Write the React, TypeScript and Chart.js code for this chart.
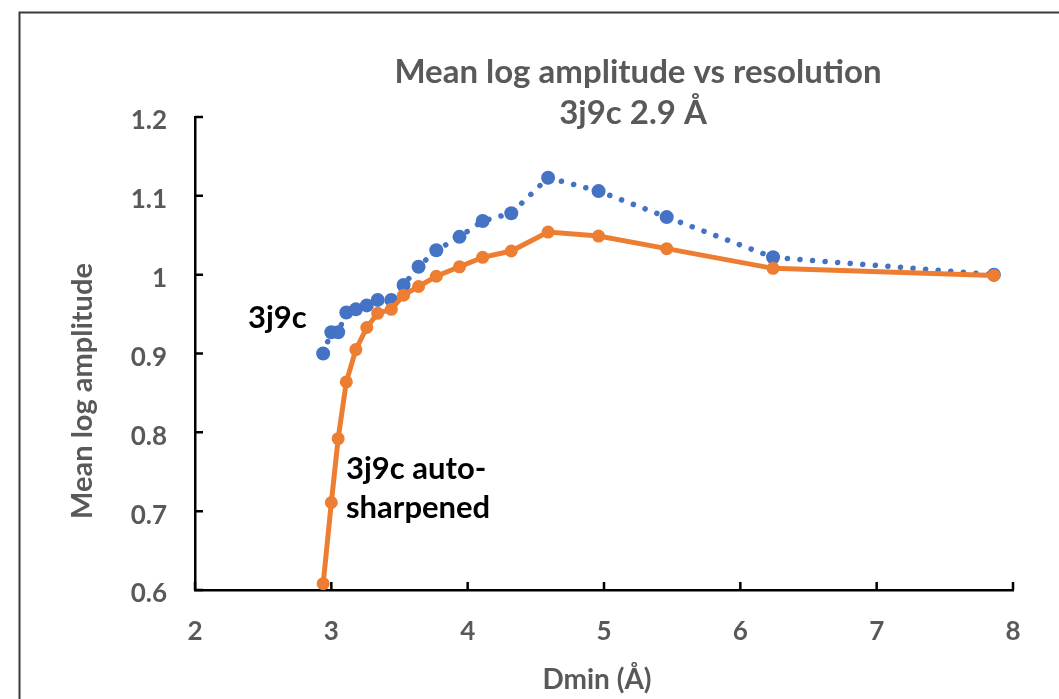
import { useEffect, useRef } from "react";
import { Chart, registerables } from "chart.js";

Chart.register(...registerables);

// Data
const dmin = [2.94, 3.0, 3.05, 3.11, 3.18, 3.26, 3.34, 3.44, 3.53, 3.64, 3.77, 3.94, 4.11, 4.32, 4.59, 4.96, 5.46, 6.24, 7.86];
const original3j9c = [0.9, 0.927, 0.927, 0.952, 0.956, 0.961, 0.968, 0.968, 0.987, 1.01, 1.031, 1.048, 1.068, 1.078, 1.123, 1.106, 1.073, 1.022, 1.0];
const sharpened3j9c = [0.608, 0.711, 0.792, 0.864, 0.905, 0.933, 0.951, 0.956, 0.974, 0.985, 0.998, 1.01, 1.022, 1.03, 1.054, 1.049, 1.033, 1.008, 0.999];
const xTicks = [2, 3, 4, 5, 6, 7, 8];
const yTicks = [0.6, 0.7, 0.8, 0.9, 1.0, 1.1, 1.2];

const titleLines = ["Mean log amplitude vs resolution", "3j9c 2.9 Å"];
const xTitle = "Dmin (Å)";
const yTitle = "Mean log amplitude";
const labelOriginal = ["3j9c"];
const labelSharpened = ["3j9c auto-", "sharpened"];

const W = 1240;
const H = 720;
const OX = 18;
const OY = 11;
const FONT = "Lato, 'Liberation Sans', sans-serif";
const GRAY = "#595959";
const BLUE = "#4472C4";
const ORANGE = "#ED7D31";

export default function App() {
  const ref = useRef<HTMLCanvasElement | null>(null);

  useEffect(() => {
    const canvas = ref.current;
    if (!canvas) return;

    const decor = {
      id: "decor",
      afterDraw(chart: any) {
        const ctx = chart.ctx;
        const xs = chart.scales.x;
        const ys = chart.scales.y;
        const area = chart.chartArea;
        ctx.save();
        // frame
        ctx.strokeStyle = "#3a3a3a";
        ctx.lineWidth = 2;
        ctx.strokeRect(1.5, 1.5, W - 3, H - 3);
        // inside ticks
        ctx.strokeStyle = "#000";
        ctx.lineWidth = 2.5;
        ctx.beginPath();
        xTicks.forEach((v) => {
          const px = xs.getPixelForValue(v);
          ctx.moveTo(px, area.bottom);
          ctx.lineTo(px, area.bottom - 8);
        });
        yTicks.forEach((v) => {
          const py = ys.getPixelForValue(v);
          ctx.moveTo(area.left, py);
          ctx.lineTo(area.left + 8, py);
        });
        ctx.stroke();

        // title
        ctx.fillStyle = GRAY;
        ctx.textAlign = "center";
        ctx.textBaseline = "middle";
        ctx.font = `bold 33px ${FONT}`;
        ctx.fillText(titleLines[0], 638 - OX, 72 - OY);
        ctx.fillText(titleLines[1], 633 - OX, 113 - OY);

        // axis titles
        ctx.font = `bold 28px ${FONT}`;
        ctx.fillText(xTitle, 597 - OX, 680 - OY);
        ctx.font = `bold 29px ${FONT}`;
        ctx.save();
        ctx.translate(83 - OX, 391 - OY);
        ctx.rotate(-Math.PI / 2);
        ctx.fillText(yTitle, 0, 0);
        ctx.restore();

        // series labels
        ctx.fillStyle = "#000";
        ctx.textAlign = "left";
        ctx.font = `bold 31px ${FONT}`;
        ctx.fillText(labelOriginal[0], 248 - OX, 318 - OY);
        ctx.fillText(labelSharpened[0], 346 - OX, 469 - OY);
        ctx.fillText(labelSharpened[1], 346 - OX, 508 - OY);
        ctx.restore();
      },
    };

    const chart = new Chart(canvas, {
      type: "scatter",
      data: {
        datasets: [
          {
            label: "3j9c",
            data: dmin.map((x, i) => ({ x, y: original3j9c[i] })),
            showLine: true,
            borderColor: BLUE,
            backgroundColor: BLUE,
            borderWidth: 5.5,
            borderDash: [0.1, 12.5],
            borderCapStyle: "round",
            pointRadius: 7,
            pointBorderWidth: 0,
            order: 2,
          },
          {
            label: "3j9c auto-sharpened",
            data: dmin.map((x, i) => ({ x, y: sharpened3j9c[i] })),
            showLine: true,
            borderColor: ORANGE,
            backgroundColor: ORANGE,
            borderWidth: 5,
            pointRadius: 6.5,
            pointBorderWidth: 0,
            order: 1,
          },
        ],
      },
      options: {
        responsive: false,
        animation: false,
        devicePixelRatio: 1,
        layout: { padding: { top: 117 - OY, right: W - (1013 - OX), left: 0, bottom: 0 } },
        plugins: {
          legend: { display: false },
          title: { display: false },
          tooltip: { enabled: false },
        },
        scales: {
          x: {
            type: "linear",
            min: 2,
            max: 8,
            afterFit: (s: any) => {
              s.height = H - (590 - OY);
            },
            afterBuildTicks: (s: any) => {
              s.ticks = xTicks.map((v) => ({ value: v }));
            },
            grid: { display: false, drawTicks: false },
            border: { display: true, color: "#000", width: 2.5 },
            ticks: {
              color: GRAY,
              font: { family: FONT, size: 26, weight: "bold" },
              padding: 26,
              maxRotation: 0,
            },
          },
          y: {
            type: "linear",
            min: 0.6,
            max: 1.2,
            afterFit: (s: any) => {
              s.width = 195 - OX;
            },
            afterBuildTicks: (s: any) => {
              s.ticks = yTicks.map((v) => ({ value: v }));
            },
            grid: { display: false, drawTicks: false },
            border: { display: true, color: "#000", width: 2.5 },
            ticks: {
              color: GRAY,
              font: { family: FONT, size: 26, weight: "bold" },
              padding: 28,
              labelOffset: 4,
              callback: (v: any) => String(+Number(v).toFixed(1)),
            },
          },
        },
      },
      plugins: [decor],
    });
    return () => chart.destroy();
  }, []);

  return (
    <div style={{ position: "fixed", left: 0, top: 0, width: 1059, height: 699, overflow: "hidden", background: "#fff" }}>
      <canvas
        ref={ref}
        width={W}
        height={H}
        style={{ position: "absolute", left: OX, top: OY, width: W, height: H }}
      />
    </div>
  );
}
